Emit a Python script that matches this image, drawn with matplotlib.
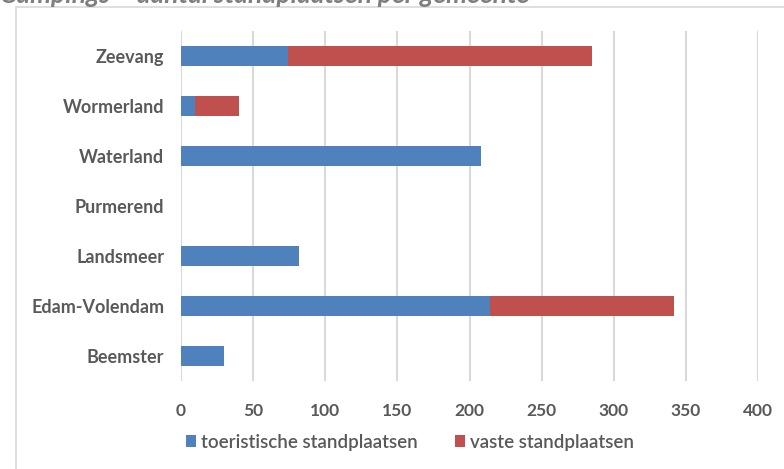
import matplotlib
matplotlib.use('Agg')
import matplotlib.pyplot as plt
from matplotlib.patches import Rectangle

# data (bottom to top, as drawn)
gemeenten = ['Beemster', 'Edam-Volendam', 'Landsmeer', 'Purmerend',
             'Waterland', 'Wormerland', 'Zeevang']
toeristisch = [30, 214, 82, 0, 208, 10, 74]
vast = [0, 128, 0, 0, 0, 30, 211]
xticks = [0, 50, 100, 150, 200, 250, 300, 350, 400]

blue = '#4F81BD'
red = '#C0504D'
txt = '#595959'

plt.rcParams['font.family'] = ['Lato', 'DejaVu Sans']

fig = plt.figure(figsize=(7.84, 4.69), dpi=100)
ax = fig.add_axes([181/784, 1 - 381/469, (758 - 181)/784, 350/469])

# outer chart frame (cut off on right and bottom)
fig.patches.append(Rectangle((16/784, -0.1), 1.2, 1 - 7/469 + 0.1,
                             transform=fig.transFigure, fill=False,
                             edgecolor='#d9d9d9', linewidth=1.2))

# title, mostly cut off at the top like in the source image
fig.text(0.0, 1 - 3/469, 'Campings – aantal standplaatsen per gemeente',
         fontsize=19, fontweight='bold', style='italic', color='#7f7f7f',
         va='baseline', ha='left')

y = range(len(gemeenten))
ax.barh(y, toeristisch, height=0.4, color=blue, label='toeristische standplaatsen', zorder=3)
ax.barh(y, vast, left=toeristisch, height=0.4, color=red, label='vaste standplaatsen', zorder=3)

ax.set_xlim(0, 400)
ax.set_ylim(-0.5, len(gemeenten) - 0.5)
ax.set_xticks(xticks)
ax.set_yticks(list(y))
ax.set_yticklabels(gemeenten, fontsize=13, fontweight='bold', color=txt)
ax.tick_params(axis='x', length=0, pad=16, labelsize=12.5, labelcolor=txt)
ax.tick_params(axis='y', length=0, pad=12)
for lbl in ax.get_xticklabels():
    lbl.set_fontweight('bold')

ax.grid(axis='x', color='#d9d9d9', linewidth=1.5, zorder=0)
for s in ax.spines.values():
    s.set_visible(False)

leg = fig.legend(loc='center', bbox_to_anchor=(410/784, 1 - 442/469), ncol=2,
                 frameon=False, fontsize=13.5, handlelength=0.55, handleheight=0.55,
                 handletextpad=0.25, columnspacing=2.0)
for t in leg.get_texts():
    t.set_color(txt)
    t.set_fontweight('semibold')

fig.savefig('out.png', dpi=100)
